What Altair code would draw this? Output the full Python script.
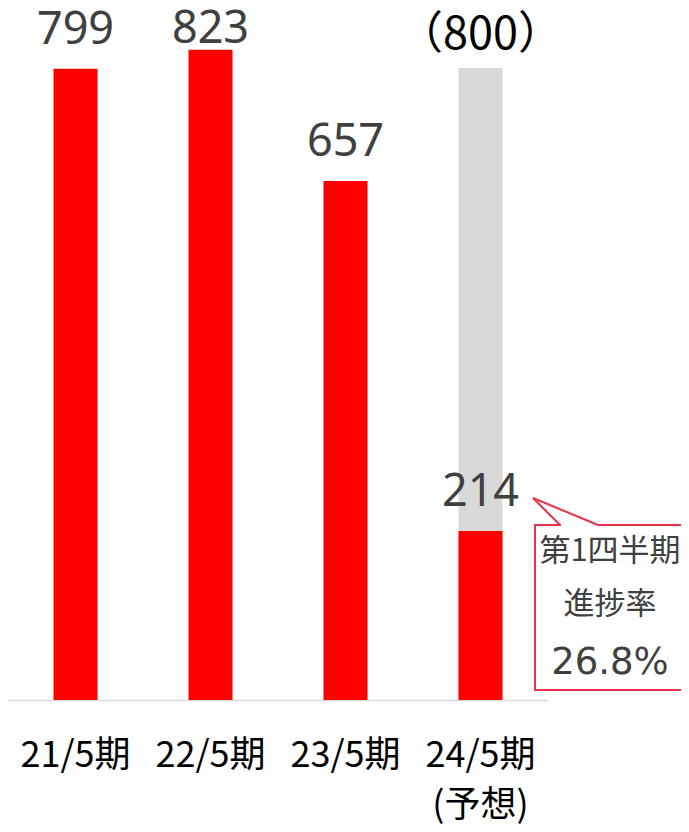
import altair as alt
import pandas as pd

categories = ["21/5期", "22/5期", "23/5期", "24/5期\n(予想)"]
actual = [799, 823, 657, 214]
forecast = [None, None, None, 800]
forecast_label = "（800）"
callout_title = "第1四半期"
callout_sub = "進捗率"
progress = "26.8%"

df = pd.DataFrame({"cat": categories, "actual": actual, "forecast": forecast})

FONT = "Noto Sans CJK JP"
NUMFONT = "Noto Sans"
RED = "#ff0000"
GRAY = "#d9d9d9"
CALLOUT = "#e8334a"

x = alt.X(
    "cat:N",
    sort=categories,
    scale=alt.Scale(range=[0, 540], paddingInner=0.674, paddingOuter=0.337),
    axis=alt.Axis(
        title=None,
        labelAngle=0,
        ticks=False,
        domainColor=GRAY,
        domainWidth=1.5,
        labelFontSize=36,
        labelFont=FONT,
        labelColor="black",
        labelPadding=38,
        labelBaseline="top",
        labelLineHeight=50,
        labelExpr="split(datum.label, '\\n')",
    ),
)
yscale = alt.Scale(domain=[0, 876], nice=False)

base = alt.Chart(df)

gray_bar = base.transform_filter("isValid(datum.forecast)").mark_bar(color=GRAY).encode(
    x=x, y=alt.Y("forecast:Q", scale=yscale, axis=None)
)
red_bar = base.mark_bar(color=RED).encode(
    x=x, y=alt.Y("actual:Q", scale=yscale, axis=None)
)
val_text = base.transform_calculate(ly="min(datum.actual, 800)").mark_text(
    font=NUMFONT, fontSize=45, color="#404040", baseline="alphabetic", dy=-25
).encode(x=x, y=alt.Y("ly:Q", scale=yscale, axis=None), text="actual:Q")
fc_text = base.transform_filter("isValid(datum.forecast)").mark_text(
    font=FONT, fontSize=45, color="black", baseline="alphabetic", dy=-19
).encode(x=x, y=alt.Y("forecast:Q", scale=yscale, axis=None), text=alt.value(forecast_label))

one = alt.Chart(pd.DataFrame({"a": [0]}))
box = one.mark_rect(fill="white", stroke=CALLOUT, strokeWidth=2).encode(
    x=alt.value(527), x2=alt.value(684), y=alt.value(517), y2=alt.value(682)
)
gap = one.mark_rule(color="white", strokeWidth=4).encode(
    x=alt.value(553), x2=alt.value(589), y=alt.value(517), y2=alt.value(517)
)
ptr1 = one.mark_rule(color=CALLOUT, strokeWidth=2).encode(
    x=alt.value(525), x2=alt.value(552), y=alt.value(490), y2=alt.value(517)
)
ptr2 = one.mark_rule(color=CALLOUT, strokeWidth=2).encode(
    x=alt.value(525), x2=alt.value(590), y=alt.value(490), y2=alt.value(517)
)
t1 = one.mark_text(font=FONT, fontSize=31, color="#404040").encode(
    x=alt.value(602), y=alt.value(544), text=alt.value(callout_title)
)
t2 = one.mark_text(font=FONT, fontSize=31, color="#404040").encode(
    x=alt.value(602), y=alt.value(597), text=alt.value(callout_sub)
)
t3 = one.mark_text(font="DejaVu Sans", fontSize=37, color="#404040").encode(
    x=alt.value(602), y=alt.value(655), text=alt.value(progress)
)

chart = alt.layer(
    gray_bar, red_bar, val_text, fc_text, box, gap, ptr1, ptr2, t1, t2, t3
).properties(
    width=673,
    height=692,
    autosize=alt.AutoSizeParams(type="none"),
    padding={"left": 0, "top": 0, "right": 0, "bottom": 124},
).configure_view(stroke=None)

chart.save("out.html", embed_options={"renderer": "svg", "actions": False})
